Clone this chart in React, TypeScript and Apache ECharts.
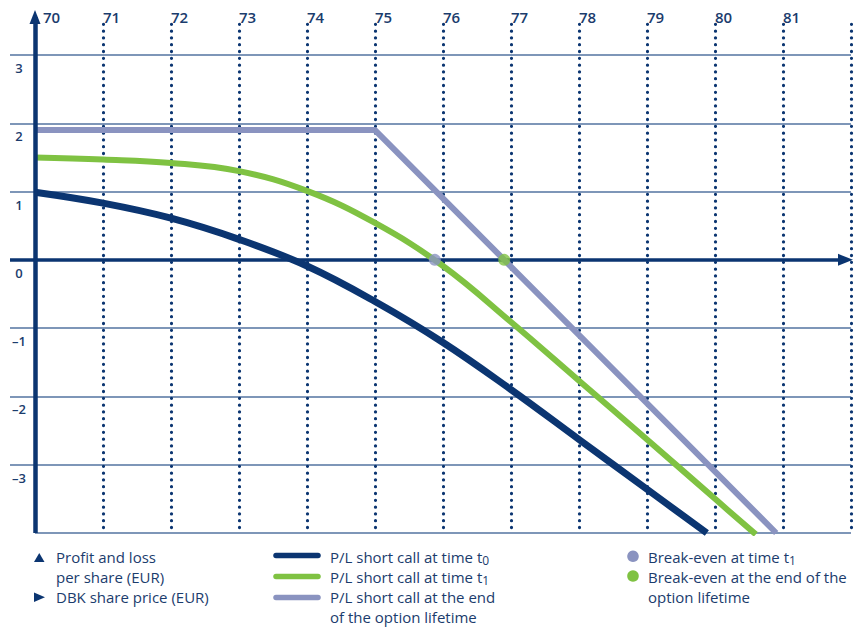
import React, { useEffect, useRef } from 'react';
import * as echarts from 'echarts';

// ---- data ----
const xTickLabels = [70, 71, 72, 73, 74, 75, 76, 77, 78, 79, 80, 81];
const xGridLines = [71, 72, 73, 74, 75, 76, 77, 78, 79, 80, 81, 82];
const yTickLabels = [3, 2, 1, 0, -1, -2, -3];

// P/L short call at time t0
const plTimeT0: [number, number][] = [
  [70, 0.99], [71, 0.83], [72, 0.61], [73, 0.3], [74, -0.09], [75, -0.61],
  [76, -1.21], [77, -1.9], [78, -2.63], [79, -3.36], [79.88, -4.0],
];
// P/L short call at time t1
const plTimeT1: [number, number][] = [
  [70, 1.5], [71, 1.47], [72, 1.42], [73, 1.3], [74, 1.01], [75, 0.54],
  [76, -0.09], [77, -0.91], [78, -1.77], [79, -2.63], [80, -3.5], [80.6, -4.02],
];
// P/L short call at the end of the option lifetime
const plExpiry: [number, number][] = [[70, 1.9], [75, 1.9], [80.9, -4.0]];
// Break-even points
const breakEvenT1: [number, number][] = [[75.88, 0]];
const breakEvenExpiry: [number, number][] = [[76.9, 0]];

// ---- styles ----
const NAVY = '#0b3571';
const GREEN = '#7fc242';
const LILAC = '#8a93c0';
const GRID = '#5373a1';
const TEXT = '#1b3c6d';
const FONT = '"Open Sans", "Noto Sans", sans-serif';
const X_MIN = 70 - 25 / 68;
const Y_MAX = 3 + 45 / 68.29;
const X_ARROW = 81.919;
const Y_ARROW = 3.556;
const Y_DOT_TOP = 3.45;

const txt = (x: number, y: number, text: string, extra: any = {}) => ({
  type: 'text',
  x,
  y,
  silent: true,
  style: {
    text,
    fill: TEXT,
    fontSize: 15,
    fontFamily: FONT,
    align: 'left',
    verticalAlign: 'middle',
    textAlign: 'left',
    textVerticalAlign: 'middle',
    ...extra,
  },
});

const subRich = {
  sub: { fontSize: 12, lineHeight: 12, verticalAlign: 'bottom', fill: TEXT, color: TEXT, fontFamily: FONT },
};

export default function App() {
  const ref = useRef<HTMLDivElement>(null);
  useEffect(() => {
    const chart = echarts.init(ref.current!, undefined, { renderer: 'svg' });
    const option: any = {
      animation: false,
      backgroundColor: '#ffffff',
      grid: { left: 10, right: 13, top: 10, bottom: 94, containLabel: false },
      xAxis: {
        type: 'value',
        min: X_MIN,
        max: 82,
        position: 'top',
        axisLine: { show: false, onZero: false },
        axisTick: { show: false },
        splitLine: { show: false },
        axisLabel: {
          customValues: xTickLabels,
          inside: true,
          margin: 6.5,
          align: 'left',
          verticalAlign: 'middle',
          color: TEXT,
          fontSize: 15,
          fontWeight: 600,
          fontFamily: FONT,
          formatter: (v: number) => (v === 70 ? '{p|70}' : String(v)),
          rich: {
            p: { padding: [0, 0, 0, 8], color: TEXT, fontSize: 15, fontWeight: 600, fontFamily: FONT },
          },
        },
      },
      yAxis: {
        type: 'value',
        min: -4,
        max: Y_MAX,
        interval: 1,
        axisLine: { show: false },
        axisTick: { show: false },
        splitLine: {
          show: true,
          showMinLine: false,
          showMaxLine: false,
          lineStyle: { color: GRID, width: 1.5 },
        },
        axisLabel: {
          inside: true,
          margin: 9,
          align: 'center',
          verticalAlign: 'top',
          lineHeight: 26,
          color: TEXT,
          fontSize: 13,
          fontWeight: 600,
          fontFamily: FONT,
          formatter: (v: number) => (yTickLabels.includes(v) ? String(v).replace('-', '\u2013') : ''),
        },
      },
      series: [
        {
          name: 'frame',
          type: 'line',
          data: [],
          silent: true,
          z: 1,
          markLine: {
            silent: true,
            z: 1,
            symbol: ['none', 'none'],
            label: { show: false },
            emphasis: { disabled: true },
            animation: false,
            data: [
              ...xGridLines.map((v) => [
                { coord: [v, Y_DOT_TOP], lineStyle: { color: NAVY, width: 3.2, type: [0.1, 6.7], cap: 'round' } },
                { coord: [v, -4] },
              ]),
              [
                { coord: [70, -4], lineStyle: { color: GRID, width: 1.5, type: 'solid' } },
                { coord: [82, -4] },
              ],
              [
                { coord: [X_MIN, 0], lineStyle: { color: NAVY, width: 3.5, type: 'solid' } },
                { coord: [X_ARROW, 0], symbol: 'triangle', symbolSize: [12, 15] },
              ],
            ],
          },
        },
        {
          name: 'P/L short call at the end of the option lifetime',
          type: 'line',
          data: plExpiry,
          symbol: 'none',
          showSymbol: false,
          silent: true,
          z: 3,
          lineStyle: { color: LILAC, width: 6 },
        },
        {
          name: 'P/L short call at time t1',
          type: 'line',
          data: plTimeT1,
          smooth: 0.4,
          symbol: 'none',
          showSymbol: false,
          silent: true,
          z: 3,
          lineStyle: { color: GREEN, width: 6 },
        },
        {
          name: 'P/L short call at time t0',
          type: 'line',
          data: plTimeT0,
          smooth: 0.4,
          symbol: 'none',
          showSymbol: false,
          silent: true,
          z: 3,
          lineStyle: { color: NAVY, width: 7 },
        },
        {
          name: 'Break-even at time t1',
          type: 'scatter',
          data: breakEvenT1,
          symbol: 'circle',
          symbolSize: 12,
          silent: true,
          z: 4,
          itemStyle: { color: LILAC },
        },
        {
          name: 'Break-even at the end of the option lifetime',
          type: 'scatter',
          data: breakEvenExpiry,
          symbol: 'circle',
          symbolSize: 12,
          silent: true,
          z: 4,
          itemStyle: { color: GREEN },
        },
        {
          name: 'yaxis',
          type: 'line',
          data: [],
          silent: true,
          z: 6,
          markLine: {
            silent: true,
            z: 6,
            symbol: ['none', 'none'],
            label: { show: false },
            emphasis: { disabled: true },
            animation: false,
            data: [
              [
                { coord: [70, -4], lineStyle: { color: NAVY, width: 4.5, type: 'solid' } },
                { coord: [70, Y_ARROW], symbol: 'triangle', symbolSize: [11, 14] },
              ],
            ],
          },
        },
      ],
      graphic: [
        { type: 'polygon', silent: true, shape: { points: [[34, 562], [44.5, 562], [39.25, 553]] }, style: { fill: NAVY } },
        txt(56, 557, 'Profit and loss'),
        txt(56, 577, 'per share (EUR)'),
        { type: 'polygon', silent: true, shape: { points: [[34, 592.5], [34, 602], [45, 597.25]] }, style: { fill: NAVY } },
        txt(56, 597, 'DBK share price (EUR)'),

        { type: 'line', silent: true, shape: { x1: 276, y1: 555.5, x2: 318, y2: 555.5 }, style: { stroke: NAVY, lineWidth: 5.5, lineCap: 'round' } },
        { type: 'line', silent: true, shape: { x1: 276, y1: 576.5, x2: 318, y2: 576.5 }, style: { stroke: GREEN, lineWidth: 5.5, lineCap: 'round' } },
        { type: 'line', silent: true, shape: { x1: 276, y1: 597.5, x2: 318, y2: 597.5 }, style: { stroke: LILAC, lineWidth: 5.5, lineCap: 'round' } },
        txt(330, 557, 'P/L short call at time t{sub|0}', { rich: subRich, lineHeight: 18 }),
        txt(330, 577, 'P/L short call at time t{sub|1}', { rich: subRich, lineHeight: 18 }),
        txt(330, 597, 'P/L short call at the end'),
        txt(330, 617, 'of the option lifetime'),

        { type: 'circle', silent: true, shape: { cx: 633, cy: 556.3, r: 5.8 }, style: { fill: LILAC } },
        { type: 'circle', silent: true, shape: { cx: 633, cy: 576, r: 5.8 }, style: { fill: GREEN } },
        txt(648, 557, 'Break-even at time t{sub|1}', { rich: subRich, lineHeight: 18 }),
        txt(648, 577, 'Break-even at the end of the'),
        txt(648, 597, 'option lifetime'),
      ],
    };
    chart.setOption(option);
    return () => chart.dispose();
  }, []);
  return (
    <div
      ref={ref}
      style={{ position: 'absolute', left: 0, top: 0, width: 864, height: 627, background: '#ffffff' }}
    />
  );
}
